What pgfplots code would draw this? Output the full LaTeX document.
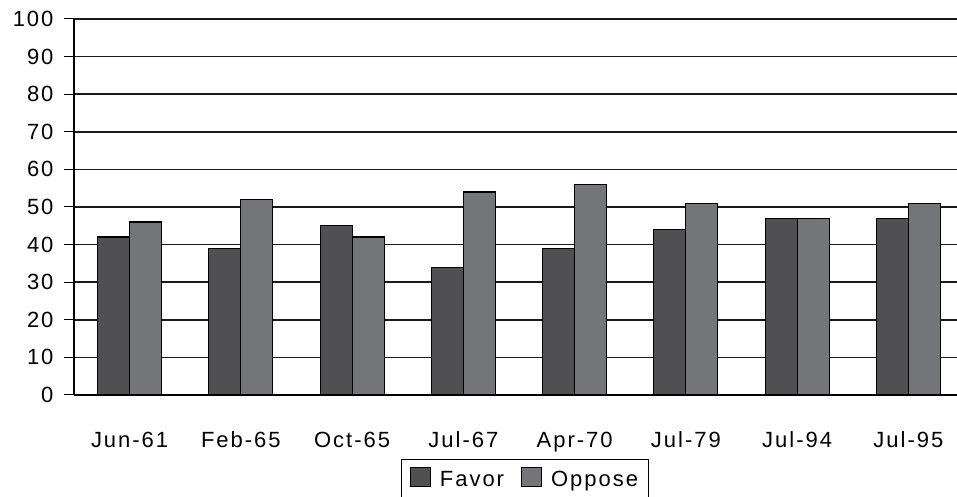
\documentclass[border=0pt]{standalone}
\usepackage{pgfplots}
\pgfplotsset{compat=1.18}
\usepackage{fontspec}
\setmainfont[LetterSpace=9]{Liberation Sans}

\definecolor{favorc}{RGB}{80,80,82}
\definecolor{opposec}{RGB}{116,117,120}

\begin{document}
\fontsize{22pt}{26pt}\selectfont
\begin{tikzpicture}
\begin{axis}[
  at={(74pt,102pt)}, anchor=south west,
  scale only axis, width=890pt, height=376pt,
  xmin=-0.5, xmax=7.5, ymin=0, ymax=100,
  ybar=0pt, bar width=32pt,
  axis x line=bottom, axis y line=left,
  axis line style={-, line width=1.8pt, black},
  xtick={0,...,7},
  xticklabels={Jun-61,Feb-65,Oct-65,Jul-67,Apr-70,Jul-79,Jul-94,Jul-95},
  major x tick style={draw=none},
  extra x ticks={-0.5,0.5,1.5,2.5,3.5,4.5,5.5,6.5,7.5},
  extra x tick labels={},
  extra x tick style={grid=none, tick align=center, major tick length=19pt,
                      major tick style={draw=black, line width=1pt}},
  ytick={0,10,...,100},
  ytick align=outside, major tick length=10pt,
  ytick style={line width=1pt, black},
  ymajorgrids, major grid style={line width=1.6pt, black!90},
  /pgf/number format/assume math mode=true,
  tick label style={font=\fontsize{22pt}{26pt}\selectfont},
  yticklabel style={anchor=east, xshift=-3pt},
  xticklabel style={anchor=base, yshift=-47.7pt},
  legend columns=2,
  legend style={at={(0.5067,-0.1703)}, anchor=north, draw=black, line width=1pt,
    font=\fontsize{22pt}{26pt}\selectfont, inner xsep=8pt, inner ysep=7.5pt,
    /tikz/every odd column/.append style={column sep=7pt},
    /tikz/every even column/.append style={column sep=15pt}},
]
\addplot[fill=favorc, draw=black, line width=1.2pt,
  legend image code/.code={\draw[fill=favorc,draw=black,line width=1pt] (0pt,-6pt) rectangle (20pt,13pt);}]
  coordinates {(0,42) (1,39) (2,45) (3,34) (4,39) (5,44) (6,47) (7,47)};
\addplot[fill=opposec, draw=black, line width=1.2pt,
  legend image code/.code={\draw[fill=opposec,draw=black,line width=1pt] (0pt,-6pt) rectangle (20pt,13pt);}]
  coordinates {(0,46) (1,52) (2,42) (3,54) (4,56) (5,51) (6,47) (7,51)};
\legend{Favor,Oppose}
\end{axis}
\pgfresetboundingbox
\useasboundingbox (0pt,0pt) rectangle (957pt,497pt);
\end{tikzpicture}
\end{document}
